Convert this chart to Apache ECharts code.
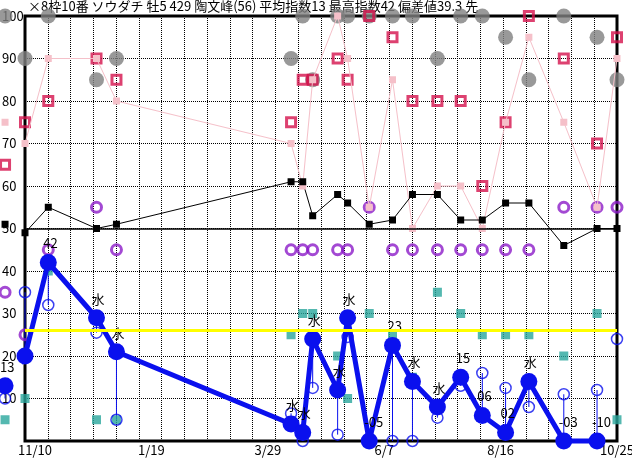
<!DOCTYPE html>
<html><head><meta charset="utf-8">
<script src="https://cdn.jsdelivr.net/npm/echarts@6/dist/echarts.min.js"></script>
<style>html,body{margin:0;padding:0;background:#fff}#c{width:632px;height:460px}</style>
</head><body><div id="c"></div>
<script>
const titleText = '×8枠10番 ソウダチ 牡5 429 陶文峰(56) 平均指数13 最高指数42 偏差値39.3 先';
const axisStart = '2019-11-04';
const axisEnd = '2020-10-25';
const tickDates = ['2019-11-10','2020-01-19','2020-03-29','2020-06-07','2020-08-16','2020-10-25'];
const raceDates = ['2019-10-23','2019-11-04','2019-11-18','2019-12-17','2019-12-29','2020-04-12','2020-04-19','2020-04-25','2020-05-10','2020-05-16','2020-05-29','2020-06-12','2020-06-24','2020-07-09','2020-07-23','2020-08-05','2020-08-19','2020-09-02','2020-09-23','2020-10-13','2020-10-25'];
const mainVals = [13,20,42,29,21,4,2,24,12,29,-5,22.5,14,8,15,6,2,14,-3,-10];
const mainLabels = ['13','','42','水','水','水','水','水','水','水','-05','23','水','水','15','06','02','水','-03','-10'];
const subVals = [10,35,32,25.5,5,6.5,0,12.5,1.5,24.5,0,0,0,5.5,13,16,12.5,8,11,12,24];
const tealVals = [5,10,40,5,5,25,30,30,20,10,30,25,15,35,30,25,25,25,20,30,5];
const purpleVals = [35,25,45,55,45,45,45,45,45,45,55,45,45,45,45,45,45,45,55,55,55];
const blackVals = [51,49,55,50,51,61,61,53,58,56,51,52,58,58,52,52,56,56,46,50,50];
const pinkVals = [75,70,90,90,80,70,60,85,100,90,55,85,50,60,60,50,75,95,75,55,90];
const crimsonVals = [65,75,80,90,85,75,85,85,90,85,100,95,80,80,80,60,75,100,90,70,95];
const grayVals = [100,90,100,85,90,90,100,85,100,100,100,100,100,90,100,100,95,85,100,95,85];
const yellowLevel = 26;
const baseLevel = 50;
const yMin = 0, yMax = 100, yStep = 10;
const gridDivisions = 26;

const DAY = 864e5;
const dayOf = s => Math.round((Date.parse(s) - Date.parse(axisStart)) / DAY);
const xMax = dayOf(axisEnd);
const raceDays = raceDates.map(dayOf);
const tickDays = tickDates.map(dayOf);
const pair = vals => vals.map((v, i) => [raceDays[i], v]);
const clamp = v => Math.max(yMin, v);
const FONT = "'Noto Sans CJK JP', sans-serif";
const BLUE = '#0a10ee';

const chart = echarts.init(document.getElementById('c'), null, {renderer: 'canvas'});
chart.setOption({
  animation: false,
  backgroundColor: '#fff',
  textStyle: {fontFamily: FONT},
  title: {text: titleText, left: 28, top: 0, padding: 0, z: 0,
    textStyle: {fontSize: 13, fontWeight: 'normal', color: '#000', fontFamily: FONT}},
  grid: {left: 25, right: 15, top: 16, bottom: 19, show: true, borderColor: '#000', borderWidth: 3,
    outerBoundsMode: 'none', containLabel: false},
  xAxis: {type: 'value', min: 0, max: xMax, interval: xMax / gridDivisions,
    axisLine: {show: false}, axisTick: {show: false},
    splitLine: {show: true, lineStyle: {color: '#000', width: 1, type: [1, 1]}},
    axisLabel: {customValues: tickDays, margin: 3, fontSize: 13, color: '#000', fontFamily: FONT,
      formatter: v => { const d = new Date(Date.parse(axisStart) + v * DAY); return (d.getUTCMonth() + 1) + '/' + d.getUTCDate(); }}},
  yAxis: {type: 'value', min: yMin, max: yMax, interval: yStep,
    axisLine: {show: false}, axisTick: {show: false},
    splitLine: {show: true, lineStyle: {color: '#000', width: 1, type: [1, 1]}},
    axisLabel: {align: 'left', margin: 23, fontSize: 13, color: '#000', fontFamily: FONT,
      formatter: v => v === 0 ? '' : String(v)}},
  series: [
    {type: 'scatter', name: 'gray', clip: false, silent: true, symbol: 'circle', symbolSize: 15,
      itemStyle: {color: '#808080'}, data: pair(grayVals),
      markLine: {silent: true, symbol: 'none', label: {show: false}, animation: false,
        data: [{yAxis: yellowLevel, lineStyle: {color: '#ffff00', width: 3, type: 'solid'}},
               {yAxis: baseLevel, lineStyle: {color: '#000', width: 1.5, type: 'solid'}}]}},
    {type: 'scatter', name: 'crimson', clip: false, silent: true, symbol: 'rect', symbolSize: 9,
      itemStyle: {color: 'rgba(0,0,0,0)', borderColor: '#d4124c', borderWidth: 3}, data: pair(crimsonVals)},
    {type: 'line', name: 'pink', clip: false, silent: true, symbol: 'rect', symbolSize: 7, showAllSymbol: true,
      lineStyle: {color: '#f5c0c9', width: 1}, itemStyle: {color: '#f5c0c9'}, data: pair(pinkVals)},
    {type: 'line', name: 'black', clip: false, silent: true, symbol: 'rect', symbolSize: 7, showAllSymbol: true,
      lineStyle: {color: '#000', width: 1}, itemStyle: {color: '#000'}, data: pair(blackVals)},
    {type: 'scatter', name: 'purple', clip: false, silent: true, symbol: 'circle', symbolSize: 10,
      itemStyle: {color: 'rgba(0,0,0,0)', borderColor: '#8c1cc8', borderWidth: 3}, data: pair(purpleVals)},
    {type: 'scatter', name: 'teal', clip: false, silent: true, symbol: 'rect', symbolSize: 9,
      itemStyle: {color: '#29a69c'}, data: pair(tealVals)},
    {type: 'custom', name: 'drop', clip: false, silent: true,
      data: mainVals.map((v, i) => [raceDays[i], clamp(v), clamp(subVals[i])]),
      encode: {x: 0, y: [1, 2]},
      renderItem: (params, api) => {
        const a = api.coord([api.value(0), api.value(1)]);
        const b = api.coord([api.value(0), api.value(2)]);
        return {type: 'line', shape: {x1: a[0], y1: a[1], x2: b[0], y2: b[1]}, style: {stroke: BLUE, lineWidth: 1}};
      }},
    {type: 'scatter', name: 'sub', clip: false, silent: true, symbol: 'circle', symbolSize: 11,
      itemStyle: {color: 'rgba(0,0,0,0)', borderColor: BLUE, borderWidth: 1.5}, data: pair(subVals.map(clamp))},
    {type: 'line', name: 'main', clip: false, silent: true, symbol: 'circle', symbolSize: 17, showAllSymbol: true,
      lineStyle: {color: BLUE, width: 5}, itemStyle: {color: BLUE},
      data: pair(mainVals.map(clamp)),
      label: {show: true, formatter: p => mainLabels[p.dataIndex], position: [3.5, -10.5],
        align: 'left', verticalAlign: 'middle', fontSize: 13, color: '#000', fontFamily: FONT}}
  ]
});
</script></body></html>
